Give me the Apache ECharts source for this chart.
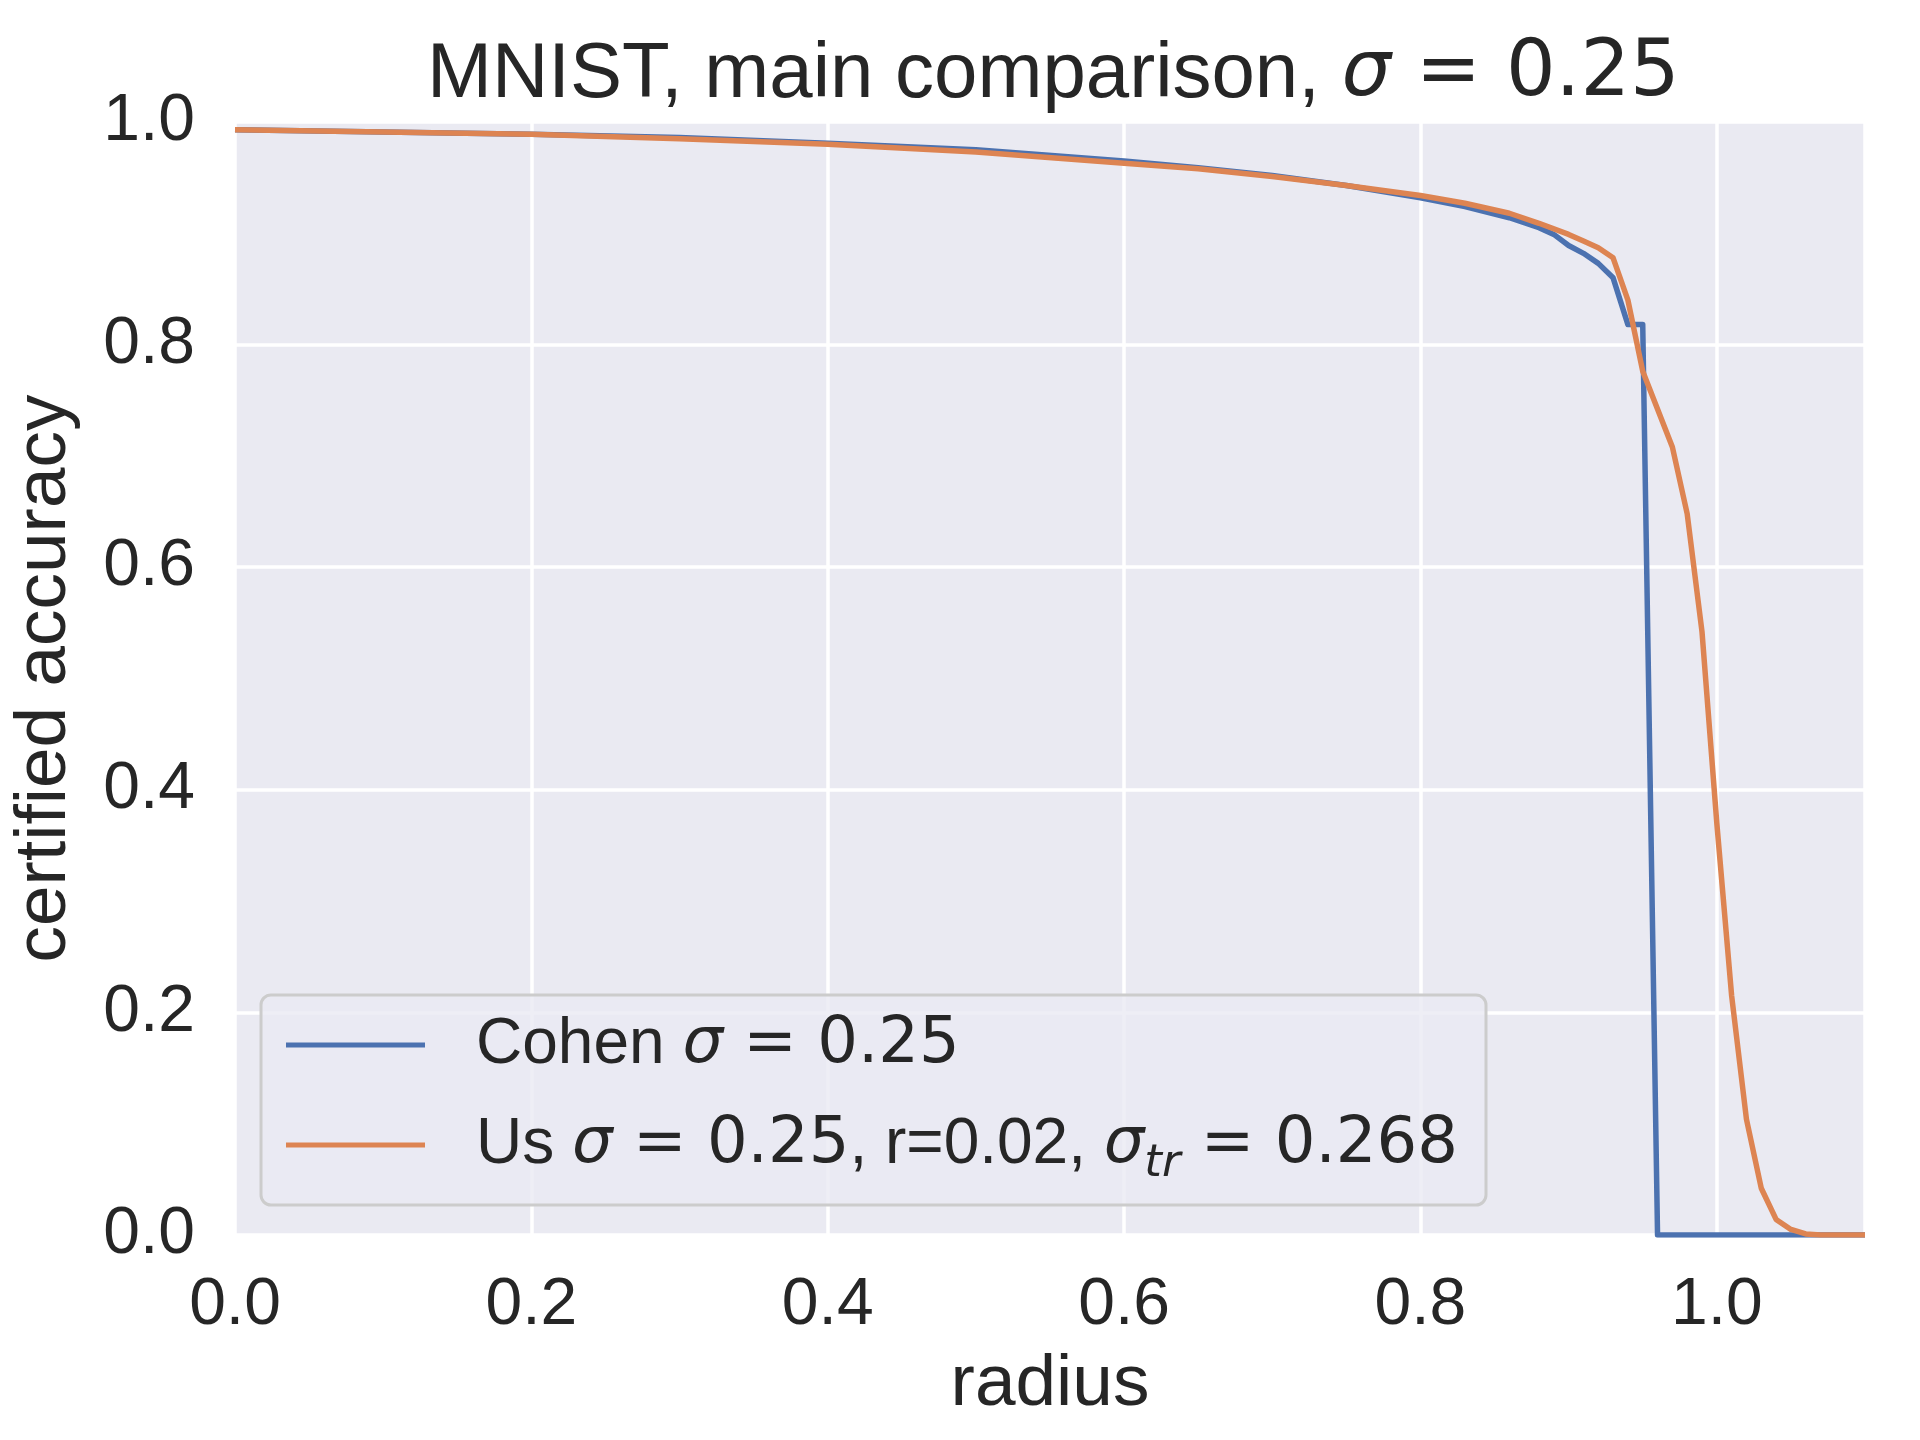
<!DOCTYPE html>
<html>
<head>
<meta charset="utf-8">
<title>MNIST, main comparison</title>
<script src="https://cdn.jsdelivr.net/npm/echarts@6/dist/echarts.min.js"></script>
<style>
html,body{margin:0;padding:0;background:#fff;}
#main{width:1920px;height:1440px;}
</style>
</head>
<body>
<div id="main"></div>
<script>
var cohenR   = [0, 0.1, 0.2, 0.3, 0.4, 0.5, 0.6, 0.65, 0.7, 0.75, 0.8, 0.83, 0.86, 0.88, 0.89, 0.9, 0.91, 0.92, 0.93, 0.94, 0.95, 0.96, 1.1];
var cohenAcc = [0.993, 0.991, 0.989, 0.986, 0.981, 0.975, 0.965, 0.959, 0.952, 0.943, 0.932, 0.924, 0.914, 0.905, 0.899, 0.889, 0.882, 0.873, 0.860, 0.818, 0.818, 0, 0];

var usR   = [0, 0.1, 0.2, 0.3, 0.4, 0.5, 0.6, 0.65, 0.7, 0.75, 0.8, 0.83, 0.86, 0.88, 0.9, 0.91, 0.92, 0.93, 0.94, 0.95, 0.97, 0.98, 0.99, 1.0, 1.01, 1.02, 1.03, 1.04, 1.05, 1.06, 1.07, 1.1];
var usAcc = [0.993, 0.991, 0.989, 0.985, 0.980, 0.973, 0.963, 0.958, 0.951, 0.943, 0.934, 0.927, 0.918, 0.909, 0.899, 0.893, 0.887, 0.878, 0.840, 0.776, 0.708, 0.648, 0.542, 0.37, 0.215, 0.104, 0.042, 0.014, 0.005, 0.001, 0, 0];

var seriesNames = ['Cohen', 'Us'];
var xTicks = [0, 0.2, 0.4, 0.6, 0.8, 1.0];
var yTicks = [0, 0.2, 0.4, 0.6, 0.8, 1.0];

function pairs(xs, ys){
    var out = [];
    for(var i=0;i<xs.length;i++){
        out.push([xs[i], ys[i]]);
    }
    return out;
}

var txt = '#262626';
var sans = '"Liberation Sans", Arial, sans-serif';
var math = '"DejaVu Sans", sans-serif';   // mathtext parts

var myChart = echarts.init(document.getElementById('main'), null, {renderer: 'canvas'});
var option = {
    animation: false,
    backgroundColor: '#ffffff',
    title: {
        text: 'MNIST, main comparison, {mi|σ}{m| = 0.25}',
        left: 422,
        top: 31,
        textStyle: {
            fontFamily: sans,
            fontSize: 78,
            fontWeight: 'normal',
            color: txt,
            rich: {
                m:  {fontFamily: math, fontSize: 78, color: txt},
                mi: {fontFamily: math, fontSize: 78, fontStyle: 'italic', color: txt}
            }
        }
    },
    grid: {
        left: 230,
        right: 55,
        top: 122,
        bottom: 205,
        show: true,
        backgroundColor: '#EAEAF2',
        borderWidth: 0
    },
    legend: {
        orient: 'vertical',
        left: 261,
        top: 995,
        padding: [18, 28, 18, 25],
        itemGap: 36,
        itemWidth: 139,
        itemHeight: 5,
        icon: 'rect',
        backgroundColor: 'rgba(234,234,242,0.8)',
        borderColor: '#cccccc',
        borderWidth: 3,
        borderRadius: 10,
        data: seriesNames,
        formatter: function(name){
            if(name == 'Cohen'){
                return '{sp|}Cohen {mi|σ}{m| = 0.25}';
            }
            return '{sp|}Us {mi|σ}{m| = 0.25}, r=0.02, {mi|σ}{sub|tr}{m| = 0.268}';
        },
        textStyle: {
            fontFamily: sans,
            fontSize: 64,
            color: txt,
            rich: {
                sp: {width: 46},
                m:  {fontFamily: math, fontSize: 64, color: txt},
                mi: {fontFamily: math, fontSize: 64, fontStyle: 'italic', color: txt},
                sub:{fontFamily: math, fontSize: 45, fontStyle: 'italic', color: txt, verticalAlign: 'top', padding: [29, 0, 0, 0], lineHeight: 47}
            }
        }
    },
    xAxis: {
        type: 'value',
        min: 0,
        max: 1.1,
        interval: 0.2,
        name: 'radius',
        nameLocation: 'middle',
        nameGap: 113,
        nameTextStyle: {fontFamily: sans, fontSize: 73, color: txt},
        axisLine: {show: false},
        axisTick: {show: false},
        axisLabel: {
            show: true,
            margin: 38,
            fontFamily: sans,
            fontSize: 66,
            color: txt,
            showMaxLabel: false,
            formatter: function(v){
                return xTicks.indexOf(Math.round(v*10)/10) >= 0 ? v.toFixed(1) : '';
            }
        },
        splitLine: {show: true, lineStyle: {color: '#ffffff', width: 3.5}}
    },
    yAxis: {
        type: 'value',
        min: 0,
        max: 1,
        interval: 0.2,
        name: 'certified accuracy',
        nameLocation: 'middle',
        nameGap: 154,
        nameTextStyle: {fontFamily: sans, fontSize: 73, color: txt},
        axisLine: {show: false},
        axisTick: {show: false},
        axisLabel: {
            margin: 40,
            fontFamily: sans,
            fontSize: 66,
            color: txt,
            formatter: function(v){
                return yTicks.indexOf(Math.round(v*10)/10) >= 0 ? v.toFixed(1) : '';
            }
        },
        splitLine: {show: true, lineStyle: {color: '#ffffff', width: 3.5}}
    },
    series: [
        {
            name: seriesNames[0],
            type: 'line',
            data: pairs(cohenR, cohenAcc),
            showSymbol: false,
            symbol: 'none',
            color: '#4C72B0',
            lineStyle: {width: 5.5, color: '#4C72B0', join: 'round'}
        },
        {
            name: seriesNames[1],
            type: 'line',
            data: pairs(usR, usAcc),
            showSymbol: false,
            symbol: 'none',
            color: '#DD8452',
            lineStyle: {width: 5.5, color: '#DD8452', join: 'round'}
        }
    ]
};

myChart.setOption(option);
window.onresize = myChart.resize;
</script>
</body>
</html>
